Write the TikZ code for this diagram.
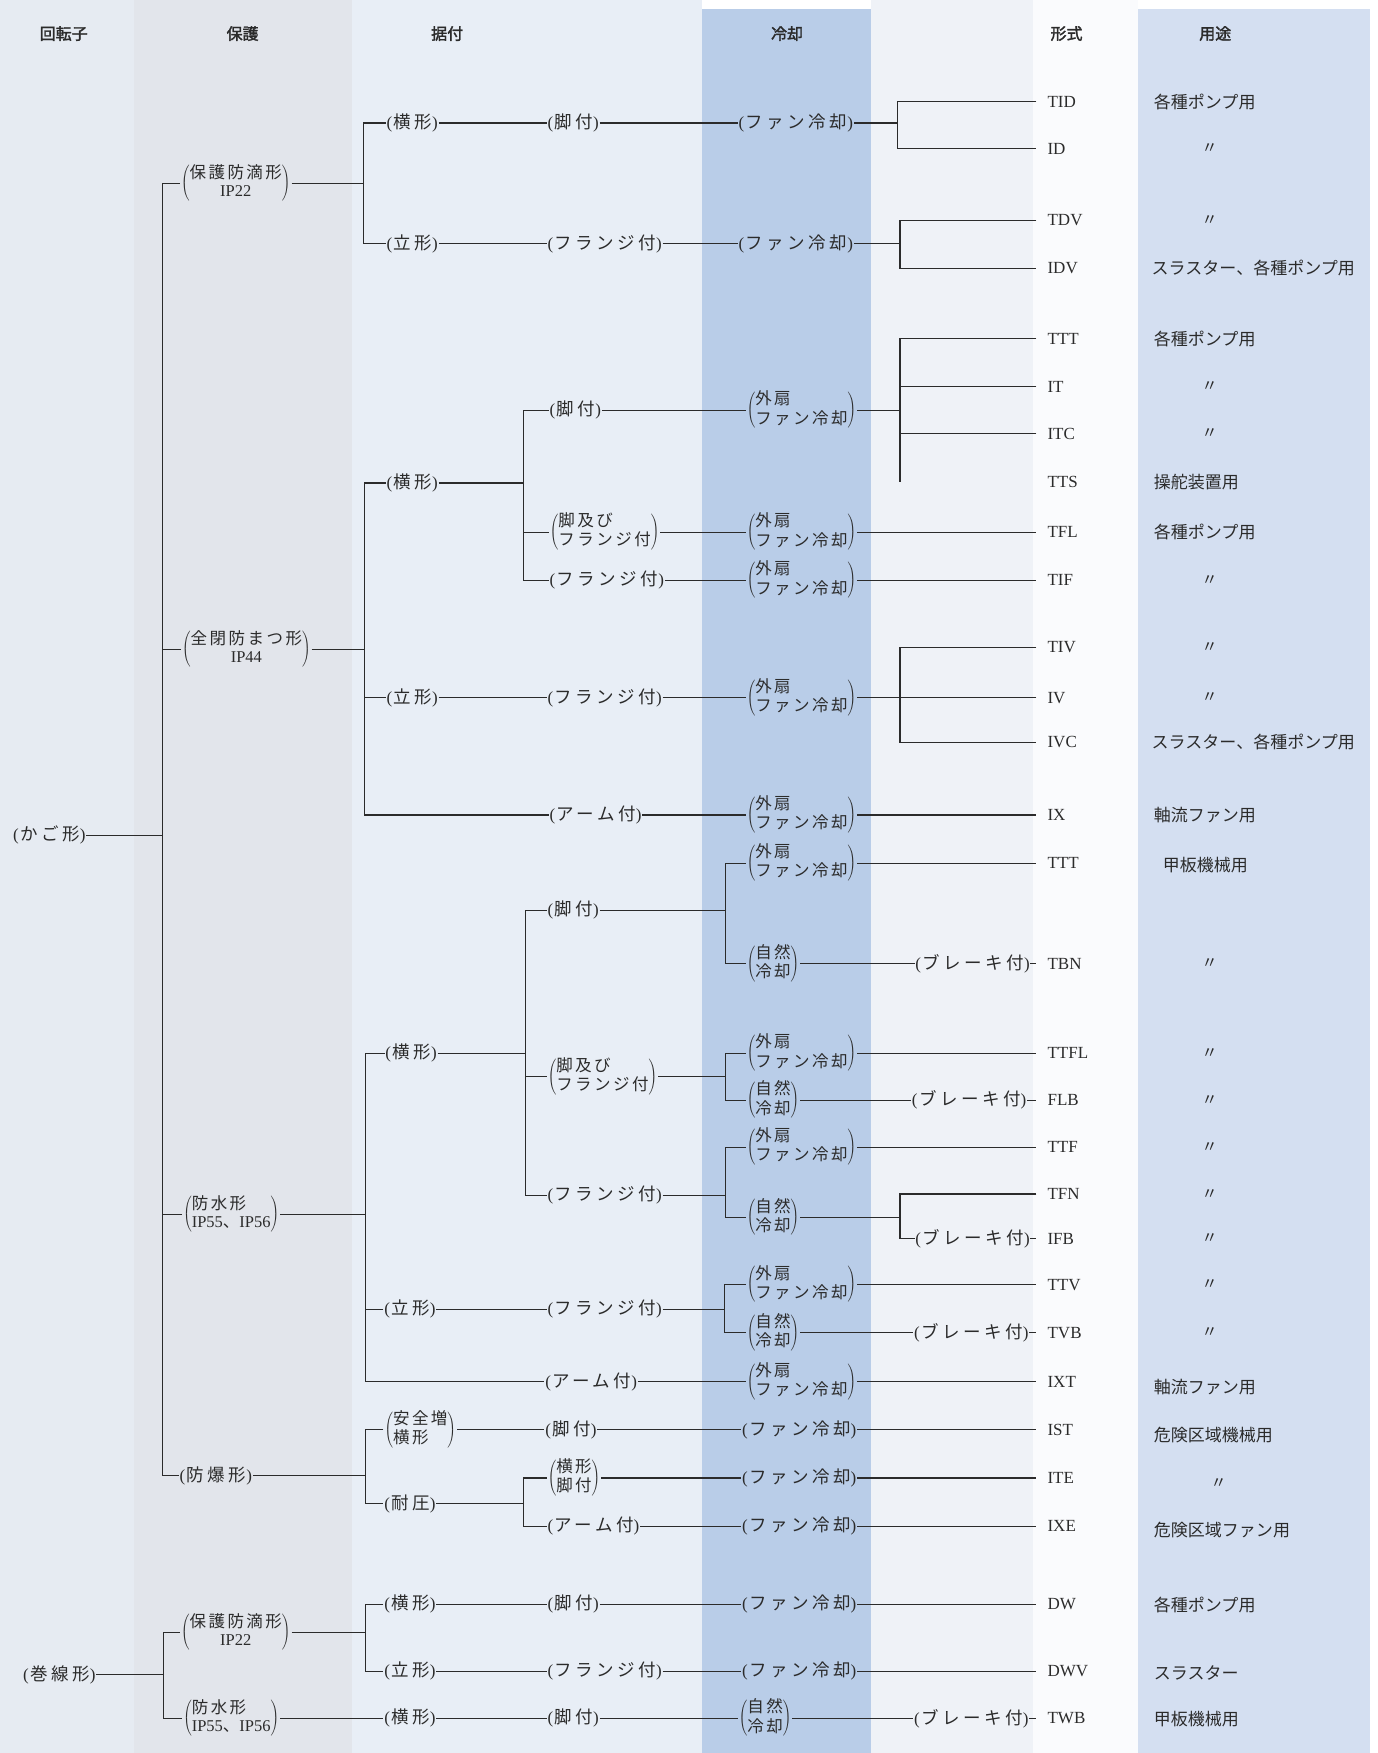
\documentclass[tikz,border=0pt]{standalone}
\usepackage{fontspec}
\setmainfont{Liberation Serif}
\newfontfamily\jpf[LetterSpace=15]{Noto Sans CJK JP}
\newfontfamily\jpg[LetterSpace=20]{Noto Sans CJK JP}
\newfontfamily\jpu{Noto Sans CJK JP}
\newfontfamily\jph[FakeBold=2]{Noto Sans CJK JP}
\definecolor{cA}{HTML}{E6EBF2}
\definecolor{cB}{HTML}{E2E5EB}
\definecolor{cC}{HTML}{E8EEF6}
\definecolor{cD}{HTML}{B9CDE8}
\definecolor{cE}{HTML}{EFF2F7}
\definecolor{cF}{HTML}{FAFBFD}
\definecolor{cG}{HTML}{D4DFF1}
\definecolor{ink}{HTML}{2B2B2B}
\newcommand\J[1]{{\jpf #1}}
\newcommand\one[1]{(\kern1.5pt{\fontsize{17.5}{21}\selectfont\jpg #1})}
\newcommand\twol[2]{$\left(\vcenter{\hbox{\fontsize{16.5}{18.5}\selectfont\begin{tabular}{@{}l@{}}#1\\#2\end{tabular}}}\right)$}
\newcommand\twoc[2]{$\left(\vcenter{\hbox{\fontsize{16.5}{18.5}\selectfont\begin{tabular}{@{}c@{}}#1\\#2\end{tabular}}}\right)$}
\newcommand\gai{\twol{\J{外扇}}{\J{ファン冷却}}}
\newcommand\shi{\twol{\J{自然}}{\J{冷却}}}
\tikzset{
 lab/.style={anchor=west, inner xsep=0.6pt, inner ysep=0pt, font=\fontsize{17}{19}\selectfont, text=ink},
 typ/.style={anchor=west, inner xsep=11pt, inner ysep=0pt, font=\fontsize{17}{19}\selectfont, text=ink},
 usetxt/.style={anchor=west, inner sep=0pt, font=\jpu\fontsize{17}{20}\selectfont, text=ink},
 dit/.style={anchor=center, inner sep=0pt, font=\jpu\fontsize{16}{20}\selectfont, text=ink},
 hdr/.style={anchor=center, inner sep=0pt, font=\jph\fontsize{16}{20}\selectfont, text=ink},
 ln/.style={draw=ink, line width=1.05pt},
}
\begin{document}
\begin{tikzpicture}[x=1.1177pt,y=-1.1177pt]
\useasboundingbox (0,0) rectangle (1232,1568);
% background columns
\fill[white] (0,0) rectangle (1232,1568);
\fill[cA] (0,0) rectangle (120,1568);
\fill[cB] (120,0) rectangle (315,1568);
\fill[cC] (315,0) rectangle (628,1568);
\fill[cD] (628,8) rectangle (779,1568);
\fill[cE] (779,0) rectangle (924,1568);
\fill[cF] (924,0) rectangle (1018,1568);
\fill[cG] (1018,8) rectangle (1225,1568);
% headers
\node[hdr] (h1) at (57,30) {回転子};
\node[hdr] (h2) at (217,30) {保護};
\node[hdr] (h3) at (400,30) {据付};
\node[hdr] (h4) at (704,30) {冷却};
\node[hdr] (h5) at (954,30) {形式};
\node[hdr] (h6) at (1087,30) {用途};
% level 0
\node[lab] (kago) at (11,747) {\one{かご形}};
\node[lab] (maki) at (20,1498) {\one{巻線形}};
% level 1
\node[lab] (A1) at (161,164) {\twoc{\J{保護防滴形}}{IP22}};
\node[lab] (B1) at (162,581) {\twoc{\J{全閉防まつ形}}{IP44}};
\node[lab] (C1) at (163,1086) {\twol{\J{防水形}}{IP55\J{、}IP56}};
\node[lab] (D1) at (160,1320) {\one{防爆形}};
\node[lab] (E1) at (161,1460) {\twoc{\J{保護防滴形}}{IP22}};
\node[lab] (E2) at (163,1537) {\twol{\J{防水形}}{IP55\J{、}IP56}};
% level 2
\node[lab] (Aa) at (345,110) {\one{横形}};
\node[lab] (Ab) at (345,218) {\one{立形}};
\node[lab] (Ba) at (345,432) {\one{横形}};
\node[lab] (Bb) at (345,624) {\one{立形}};
\node[lab] (Bc) at (491,729) {\one{アーム付}};
\node[lab] (Ca) at (344,942) {\one{横形}};
\node[lab] (Cb) at (343,1171) {\one{立形}};
\node[lab] (Cc) at (487,1236) {\one{アーム付}};
\node[lab] (Da) at (343,1279) {\twol{\J{安全増}}{\J{横形}}};
\node[lab] (Db) at (343,1345) {\one{耐圧}};
\node[lab] (Ea) at (343,1435) {\one{横形}};
\node[lab] (Eb) at (343,1495) {\one{立形}};
\node[lab] (Ec) at (343,1537) {\one{横形}};
% level 3
\node[lab] (Aa2) at (489,110) {\one{脚付}};
\node[lab] (Ab2) at (489,218) {\one{フランジ付}};
\node[lab] (Ba1) at (491,367) {\one{脚付}};
\node[lab] (Ba2) at (491,476) {\twol{\J{脚及び}}{\J{フランジ付}}};
\node[lab] (Ba3) at (491,519) {\one{フランジ付}};
\node[lab] (Bb2) at (489,624) {\one{フランジ付}};
\node[lab] (Ca1) at (489,814) {\one{脚付}};
\node[lab] (Ca2) at (489,963) {\twol{\J{脚及び}}{\J{フランジ付}}};
\node[lab] (Ca3) at (489,1069) {\one{フランジ付}};
\node[lab] (Cb2) at (489,1171) {\one{フランジ付}};
\node[lab] (Da2) at (487,1279) {\one{脚付}};
\node[lab] (Db1) at (489,1322) {\twol{\J{横形}}{\J{脚付}}};
\node[lab] (Db2) at (489,1365) {\one{アーム付}};
\node[lab] (Ea2) at (489,1435) {\one{脚付}};
\node[lab] (Eb2) at (489,1495) {\one{フランジ付}};
\node[lab] (Ec2) at (489,1537) {\one{脚付}};
% level 4
\node[lab] (Aa3) at (660,110) {\one{ファン冷却}};
\node[lab] (Ab3) at (660,218) {\one{ファン冷却}};
\node[lab] (Ba1c) at (667,367) {\gai};
\node[lab] (Ba2c) at (667,476) {\gai};
\node[lab] (Ba3c) at (667,519) {\gai};
\node[lab] (Bb3) at (667,624) {\gai};
\node[lab] (Bc3) at (667,729) {\gai};
\node[lab] (Ca1a) at (667,772) {\gai};
\node[lab] (Ca1b) at (667,862) {\shi};
\node[lab] (Ca2a) at (667,942) {\gai};
\node[lab] (Ca2b) at (667,984) {\shi};
\node[lab] (Ca3a) at (667,1026) {\gai};
\node[lab] (Ca3b) at (667,1089) {\shi};
\node[lab] (Cb3a) at (667,1149) {\gai};
\node[lab] (Cb3b) at (667,1192) {\shi};
\node[lab] (Cc3) at (667,1236) {\gai};
\node[lab] (Da3) at (663,1279) {\one{ファン冷却}};
\node[lab] (Db1c) at (663,1322) {\one{ファン冷却}};
\node[lab] (Db2c) at (663,1365) {\one{ファン冷却}};
\node[lab] (Ea3) at (663,1435) {\one{ファン冷却}};
\node[lab] (Eb3) at (663,1495) {\one{ファン冷却}};
\node[lab] (Ec3) at (660,1537) {\shi};
% brakes
\node[lab] (br1) at (818,862) {\one{ブレーキ付}};
\node[lab] (br2) at (815,984) {\one{ブレーキ付}};
\node[lab] (br3) at (818,1108) {\one{ブレーキ付}};
\node[lab] (br4) at (817,1192) {\one{ブレーキ付}};
\node[lab] (br5) at (817,1537) {\one{ブレーキ付}};
% types
\node[typ] (t1) at (927,91) {TID};
\node[typ] (t2) at (927,133) {ID};
\node[typ] (t3) at (927,197) {TDV};
\node[typ] (t4) at (927,240) {IDV};
\node[typ] (t5) at (927,303) {TTT};
\node[typ] (t6) at (927,346) {IT};
\node[typ] (t7) at (927,388) {ITC};
\node[typ] (t8) at (927,431) {TTS};
\node[typ] (t9) at (927,476) {TFL};
\node[typ] (t10) at (927,519) {TIF};
\node[typ] (t11) at (927,579) {TIV};
\node[typ] (t12) at (927,624) {IV};
\node[typ] (t13) at (927,664) {IVC};
\node[typ] (t14) at (927,729) {IX};
\node[typ] (t15) at (927,772) {TTT};
\node[typ] (t16) at (927,862) {TBN};
\node[typ] (t17) at (927,942) {TTFL};
\node[typ] (t18) at (927,984) {FLB};
\node[typ] (t19) at (927,1026) {TTF};
\node[typ] (t20) at (927,1068) {TFN};
\node[typ] (t21) at (927,1108) {IFB};
\node[typ] (t22) at (927,1149) {TTV};
\node[typ] (t23) at (927,1192) {TVB};
\node[typ] (t24) at (927,1236) {IXT};
\node[typ] (t25) at (927,1279) {IST};
\node[typ] (t26) at (927,1322) {ITE};
\node[typ] (t27) at (927,1365) {IXE};
\node[typ] (t28) at (927,1435) {DW};
\node[typ] (t29) at (927,1495) {DWV};
\node[typ] (t30) at (927,1537) {TWB};
% uses
\node[usetxt] (u1) at (1032,91) {各種ポンプ用};
\node[dit] (u2) at (1082,133) {〃};
\node[dit] (u3) at (1082,197) {〃};
\node[usetxt] (u4) at (1030,240) {スラスター、各種ポンプ用};
\node[usetxt] (u5) at (1032,303) {各種ポンプ用};
\node[dit] (u6) at (1082,346) {〃};
\node[dit] (u7) at (1082,388) {〃};
\node[usetxt] (u8) at (1032,431) {操舵装置用};
\node[usetxt] (u9) at (1032,476) {各種ポンプ用};
\node[dit] (u10) at (1082,519) {〃};
\node[dit] (u11) at (1082,579) {〃};
\node[dit] (u12) at (1082,624) {〃};
\node[usetxt] (u13) at (1030,664) {スラスター、各種ポンプ用};
\node[usetxt] (u14) at (1032,729) {軸流ファン用};
\node[usetxt] (u15) at (1040,774) {甲板機械用};
\node[dit] (u16) at (1082,862) {〃};
\node[dit] (u17) at (1082,942) {〃};
\node[dit] (u18) at (1082,984) {〃};
\node[dit] (u19) at (1082,1026) {〃};
\node[dit] (u20) at (1082,1068) {〃};
\node[dit] (u21) at (1082,1108) {〃};
\node[dit] (u22) at (1082,1149) {〃};
\node[dit] (u23) at (1082,1192) {〃};
\node[usetxt] (u24) at (1032,1241) {軸流ファン用};
\node[usetxt] (u25) at (1032,1284) {危険区域機械用};
\node[dit] (u26) at (1090,1327) {〃};
\node[usetxt] (u27) at (1032,1369) {危険区域ファン用};
\node[usetxt] (u28) at (1032,1436) {各種ポンプ用};
\node[usetxt] (u29) at (1032,1496) {スラスター};
\node[usetxt] (u30) at (1032,1538) {甲板機械用};
% fork x coordinates
\coordinate (K) at (145,0);
\coordinate (fA) at (325,0);
\coordinate (fA1) at (803,0);
\coordinate (fA2) at (805,0);
\coordinate (fB) at (326,0);
\coordinate (fBa) at (468,0);
\coordinate (fB1) at (805,0);
\coordinate (fB2) at (805,0);
\coordinate (fC) at (327,0);
\coordinate (fCa) at (470,0);
\coordinate (fC1) at (649,0);
\coordinate (fC3) at (805,0);
\coordinate (fC4) at (648,0);
\coordinate (fD) at (327,0);
\coordinate (fDb) at (468,0);
\coordinate (fE) at (146,0);
\coordinate (fE1) at (327,0);
% trunk
\draw[ln] (kago.east) -- (kago.east -| K);
\draw[ln] (A1.west) -- (A1.west -| K) -- (D1.west -| K) -- (D1.west);
\draw[ln] (B1.west) -- (B1.west -| K);
\draw[ln] (C1.west) -- (C1.west -| K);
% group A
\draw[ln] (A1.east) -- (A1.east -| fA);
\draw[ln] (Aa.west) -- (Aa.west -| fA) -- (Ab.west -| fA) -- (Ab.west);
\draw[ln] (Aa.east) -- (Aa2.west);
\draw[ln] (Aa2.east) -- (Aa3.west);
\draw[ln] (Aa3.east) -- (Aa3.east -| fA1);
\draw[ln] (t1.west) -- (t1.west -| fA1) -- (t2.west -| fA1) -- (t2.west);
\draw[ln] (Ab.east) -- (Ab2.west);
\draw[ln] (Ab2.east) -- (Ab3.west);
\draw[ln] (Ab3.east) -- (Ab3.east -| fA2);
\draw[ln] (t3.west) -- (t3.west -| fA2) -- (t4.west -| fA2) -- (t4.west);
% group B
\draw[ln] (B1.east) -- (B1.east -| fB);
\draw[ln] (Ba.west) -- (Ba.west -| fB) -- (Bc.west -| fB) -- (Bc.west);
\draw[ln] (Bb.west) -- (Bb.west -| fB);
\draw[ln] (Ba.east) -- (Ba.east -| fBa);
\draw[ln] (Ba1.west) -- (Ba1.west -| fBa) -- (Ba3.west -| fBa) -- (Ba3.west);
\draw[ln] (Ba2.west) -- (Ba2.west -| fBa);
\draw[ln] (Ba1.east) -- (Ba1c.west);
\draw[ln] (Ba1c.east) -- (Ba1c.east -| fB1);
\draw[ln] (t5.west) -- (t5.west -| fB1) -- (t8.west -| fB1);
\draw[ln] (t6.west) -- (t6.west -| fB1);
\draw[ln] (t7.west) -- (t7.west -| fB1);
\draw[ln] (Ba2.east) -- (Ba2c.west);
\draw[ln] (Ba2c.east) -- (t9.west);
\draw[ln] (Ba3.east) -- (Ba3c.west);
\draw[ln] (Ba3c.east) -- (t10.west);
\draw[ln] (Bb.east) -- (Bb2.west);
\draw[ln] (Bb2.east) -- (Bb3.west);
\draw[ln] (Bb3.east) -- (Bb3.east -| fB2);
\draw[ln] (t11.west) -- (t11.west -| fB2) -- (t13.west -| fB2) -- (t13.west);
\draw[ln] (t12.west) -- (t12.west -| fB2);
\draw[ln] (Bc.east) -- (Bc3.west);
\draw[ln] (Bc3.east) -- (t14.west);
% group C
\draw[ln] (C1.east) -- (C1.east -| fC);
\draw[ln] (Ca.west) -- (Ca.west -| fC) -- (Cc.west -| fC) -- (Cc.west);
\draw[ln] (Cb.west) -- (Cb.west -| fC);
\draw[ln] (Ca.east) -- (Ca.east -| fCa);
\draw[ln] (Ca1.west) -- (Ca1.west -| fCa) -- (Ca3.west -| fCa) -- (Ca3.west);
\draw[ln] (Ca2.west) -- (Ca2.west -| fCa);
\draw[ln] (Ca1.east) -- (Ca1.east -| fC1);
\draw[ln] (Ca1a.west) -- (Ca1a.west -| fC1) -- (Ca1b.west -| fC1) -- (Ca1b.west);
\draw[ln] (Ca1a.east) -- (t15.west);
\draw[ln] (Ca1b.east) -- (br1.west);
\draw[ln] (br1.east) -- (t16.west);
\draw[ln] (Ca2.east) -- (Ca2.east -| fC1);
\draw[ln] (Ca2a.west) -- (Ca2a.west -| fC1) -- (Ca2b.west -| fC1) -- (Ca2b.west);
\draw[ln] (Ca2a.east) -- (t17.west);
\draw[ln] (Ca2b.east) -- (br2.west);
\draw[ln] (br2.east) -- (t18.west);
\draw[ln] (Ca3.east) -- (Ca3.east -| fC1);
\draw[ln] (Ca3a.west) -- (Ca3a.west -| fC1) -- (Ca3b.west -| fC1) -- (Ca3b.west);
\draw[ln] (Ca3a.east) -- (t19.west);
\draw[ln] (Ca3b.east) -- (Ca3b.east -| fC3);
\draw[ln] (t20.west) -- (t20.west -| fC3) -- (br3.west -| fC3) -- (br3.west);
\draw[ln] (br3.east) -- (t21.west);
\draw[ln] (Cb.east) -- (Cb2.west);
\draw[ln] (Cb2.east) -- (Cb2.east -| fC4);
\draw[ln] (Cb3a.west) -- (Cb3a.west -| fC4) -- (Cb3b.west -| fC4) -- (Cb3b.west);
\draw[ln] (Cb3a.east) -- (t22.west);
\draw[ln] (Cb3b.east) -- (br4.west);
\draw[ln] (br4.east) -- (t23.west);
\draw[ln] (Cc.east) -- (Cc3.west);
\draw[ln] (Cc3.east) -- (t24.west);
% group D
\draw[ln] (D1.east) -- (D1.east -| fD);
\draw[ln] (Da.west) -- (Da.west -| fD) -- (Db.west -| fD) -- (Db.west);
\draw[ln] (Da.east) -- (Da2.west);
\draw[ln] (Da2.east) -- (Da3.west);
\draw[ln] (Da3.east) -- (t25.west);
\draw[ln] (Db.east) -- (Db.east -| fDb);
\draw[ln] (Db1.west) -- (Db1.west -| fDb) -- (Db2.west -| fDb) -- (Db2.west);
\draw[ln] (Db1.east) -- (Db1c.west);
\draw[ln] (Db1c.east) -- (t26.west);
\draw[ln] (Db2.east) -- (Db2c.west);
\draw[ln] (Db2c.east) -- (t27.west);
% group E
\draw[ln] (maki.east) -- (maki.east -| fE);
\draw[ln] (E1.west) -- (E1.west -| fE) -- (E2.west -| fE) -- (E2.west);
\draw[ln] (E1.east) -- (E1.east -| fE1);
\draw[ln] (Ea.west) -- (Ea.west -| fE1) -- (Eb.west -| fE1) -- (Eb.west);
\draw[ln] (Ea.east) -- (Ea2.west);
\draw[ln] (Ea2.east) -- (Ea3.west);
\draw[ln] (Ea3.east) -- (t28.west);
\draw[ln] (Eb.east) -- (Eb2.west);
\draw[ln] (Eb2.east) -- (Eb3.west);
\draw[ln] (Eb3.east) -- (t29.west);
\draw[ln] (E2.east) -- (Ec.west);
\draw[ln] (Ec.east) -- (Ec2.west);
\draw[ln] (Ec2.east) -- (Ec3.west);
\draw[ln] (Ec3.east) -- (br5.west);
\draw[ln] (br5.east) -- (t30.west);
\end{tikzpicture}
\end{document}
